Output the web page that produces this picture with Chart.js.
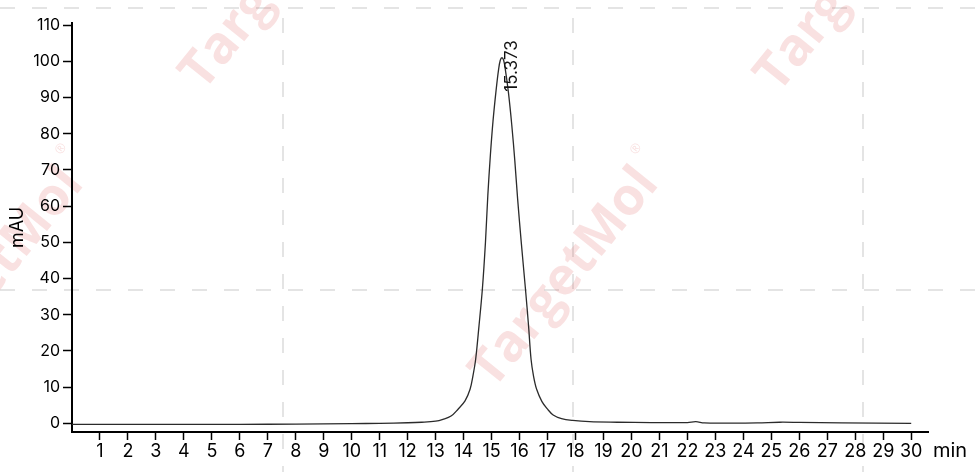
<!DOCTYPE html>
<html>
<head>
<meta charset="utf-8">
<script src="https://cdn.jsdelivr.net/npm/chart.js@4.4.1/dist/chart.umd.min.js"></script>
<style>
  html, body { margin: 0; padding: 0; background: #fff; }
  #wrap { width: 976px; height: 472px; position: relative; }
</style>
</head>
<body>
<div id="wrap"><canvas id="c" width="976" height="472"></canvas></div>
<script>
// Retention time (min) and absorbance (mAU)
const times = [0, 2, 4, 6, 8, 10, 11, 12, 12.5, 13, 13.26, 13.55, 13.8, 14.05, 14.23, 14.33, 14.43, 14.55, 14.67, 14.78, 14.865, 14.955, 15.05, 15.16, 15.25, 15.31, 15.37, 15.43, 15.49, 15.6, 15.72, 15.83, 15.93, 16.06, 16.21, 16.32, 16.41, 16.5, 16.61, 16.8, 17.0, 17.2, 17.5, 17.9, 18.5, 19.5, 20.7, 22.0, 22.3, 22.6, 23.5, 24.5, 25.3, 26, 27.5, 30];
const signal = [-0.3, -0.3, -0.3, -0.3, -0.2, -0.1, 0, 0.15, 0.3, 0.6, 1.1, 2.0, 3.9, 6.2, 9.4, 13, 17.7, 27, 37.1, 50, 63, 74, 83.5, 92, 97.8, 100.3, 101, 100.3, 97.8, 91.5, 82.5, 72.5, 62, 50, 37.1, 27, 17.7, 13, 9.4, 6, 3.9, 2.3, 1.3, 0.8, 0.45, 0.3, 0.2, 0.2, 0.45, 0.1, 0.05, 0.1, 0.3, 0.25, 0.1, 0];
const xTicks = [1,2,3,4,5,6,7,8,9,10,11,12,13,14,15,16,17,18,19,20,21,22,23,24,25,26,27,28,29,30];
const yTicks = [0,10,20,30,40,50,60,70,80,90,100,110];
const peakTimes = [15.373];
const peakHeights = [101];
const peakLabels = ['15.373'];
const xUnit = 'min';
const yUnit = 'mAU';
const watermarkText = 'TargetMol';

const points = times.map((t, i) => ({ x: t, y: signal[i] }));

const backgroundPlugin = {
  id: 'bgWatermark',
  beforeDraw(chart) {
    const ctx = chart.ctx;
    ctx.save();
    ctx.fillStyle = '#ffffff';
    ctx.fillRect(0, 0, chart.width, chart.height);
    // dashed watermark grid
    ctx.strokeStyle = '#e4e4e4';
    ctx.lineWidth = 2;
    ctx.setLineDash([15, 17]);
    [283, 573, 863].forEach(x => {
      ctx.beginPath(); ctx.moveTo(x, 18); ctx.lineTo(x, chart.height); ctx.stroke();
    });
    [8, 290].forEach(y => {
      ctx.beginPath(); ctx.moveTo(0, y); ctx.lineTo(chart.width, y); ctx.stroke();
    });
    ctx.setLineDash([]);
    // watermark text
    const centers = [[565, 278], [-10, 278], [275, -20], [850, -18]];
    ctx.font = 'bold 40px "Open Sans"';
    const w = ctx.measureText(watermarkText).width;
    const size = 40 * 265 / w;
    const wmFont = 'bold ' + size.toFixed(1) + 'px "Open Sans"';
    ctx.fillStyle = 'rgba(220, 80, 80, 0.17)';
    ctx.textAlign = 'center';
    ctx.textBaseline = 'middle';
    centers.forEach(([cx, cy]) => {
      ctx.save();
      ctx.translate(cx, cy);
      ctx.rotate(-51 * Math.PI / 180);
      ctx.font = wmFont;
      ctx.fillText(watermarkText, 0, 0);
      ctx.font = '13px "Open Sans"';
      ctx.fillText('\u00AE', 145, -26);
      ctx.restore();
    });
    ctx.restore();
  },
  afterDraw(chart) {
    const ctx = chart.ctx;
    const xs = chart.scales.x, ys = chart.scales.y;
    ctx.save();
    // peak labels
    ctx.fillStyle = '#111';
    ctx.font = '17px Inter';
    ctx.textAlign = 'left';
    ctx.textBaseline = 'alphabetic';
    peakTimes.forEach((t, i) => {
      const px = xs.getPixelForValue(t);
      const py = ys.getPixelForValue(peakHeights[i]);
      ctx.save();
      ctx.translate(px + 15, py + 34);
      ctx.rotate(-Math.PI / 2);
      ctx.fillText(peakLabels[i], 0, 0);
      ctx.restore();
    });
    // x unit
    ctx.font = '20px Inter';
    ctx.textBaseline = 'middle';
    ctx.fillStyle = '#000';
    ctx.fillText(xUnit, xs.right + 5, 451);
    ctx.restore();
  }
};

new Chart(document.getElementById('c'), {
  type: 'line',
  data: {
    datasets: [{
      data: points,
      borderColor: '#2b2b2b',
      borderWidth: 1.3,
      pointRadius: 0,
      fill: false,
      tension: 0.35
    }]
  },
  options: {
    responsive: false,
    animation: false,
    devicePixelRatio: 1,
    layout: { padding: { top: 23, right: 48, left: 0, bottom: 0 } },
    plugins: { legend: { display: false }, tooltip: { enabled: false } },
    scales: {
      x: {
        type: 'linear',
        min: 0,
        max: 30.6,
        afterBuildTicks(axis) { axis.ticks = xTicks.map(v => ({ value: v })); },
        afterFit(scale) { scale.height = 40; },
        grid: { drawOnChartArea: false, drawTicks: true, tickLength: 8, tickColor: '#000', tickWidth: 1.5 },
        border: { display: true, color: '#000', width: 2 },
        ticks: { color: '#000', font: { family: 'Inter', size: 18 }, padding: 1, maxRotation: 0, autoSkip: false }
      },
      y: {
        type: 'linear',
        min: -2.4,
        max: 110.6,
        afterBuildTicks(axis) { axis.ticks = yTicks.map(v => ({ value: v })); },
        afterFit(scale) { scale.width = 72; },
        grid: { drawOnChartArea: false, drawTicks: true, tickLength: 9, tickColor: '#000', tickWidth: 1.5 },
        border: { display: true, color: '#000', width: 2 },
        ticks: { color: '#000', font: { family: 'Inter', size: 16 }, padding: 3 },
        title: { display: true, text: yUnit, color: '#000', font: { family: 'Inter', size: 18 }, padding: { top: 7, bottom: 0 } }
      }
    }
  },
  plugins: [backgroundPlugin]
});
</script>
</body>
</html>
